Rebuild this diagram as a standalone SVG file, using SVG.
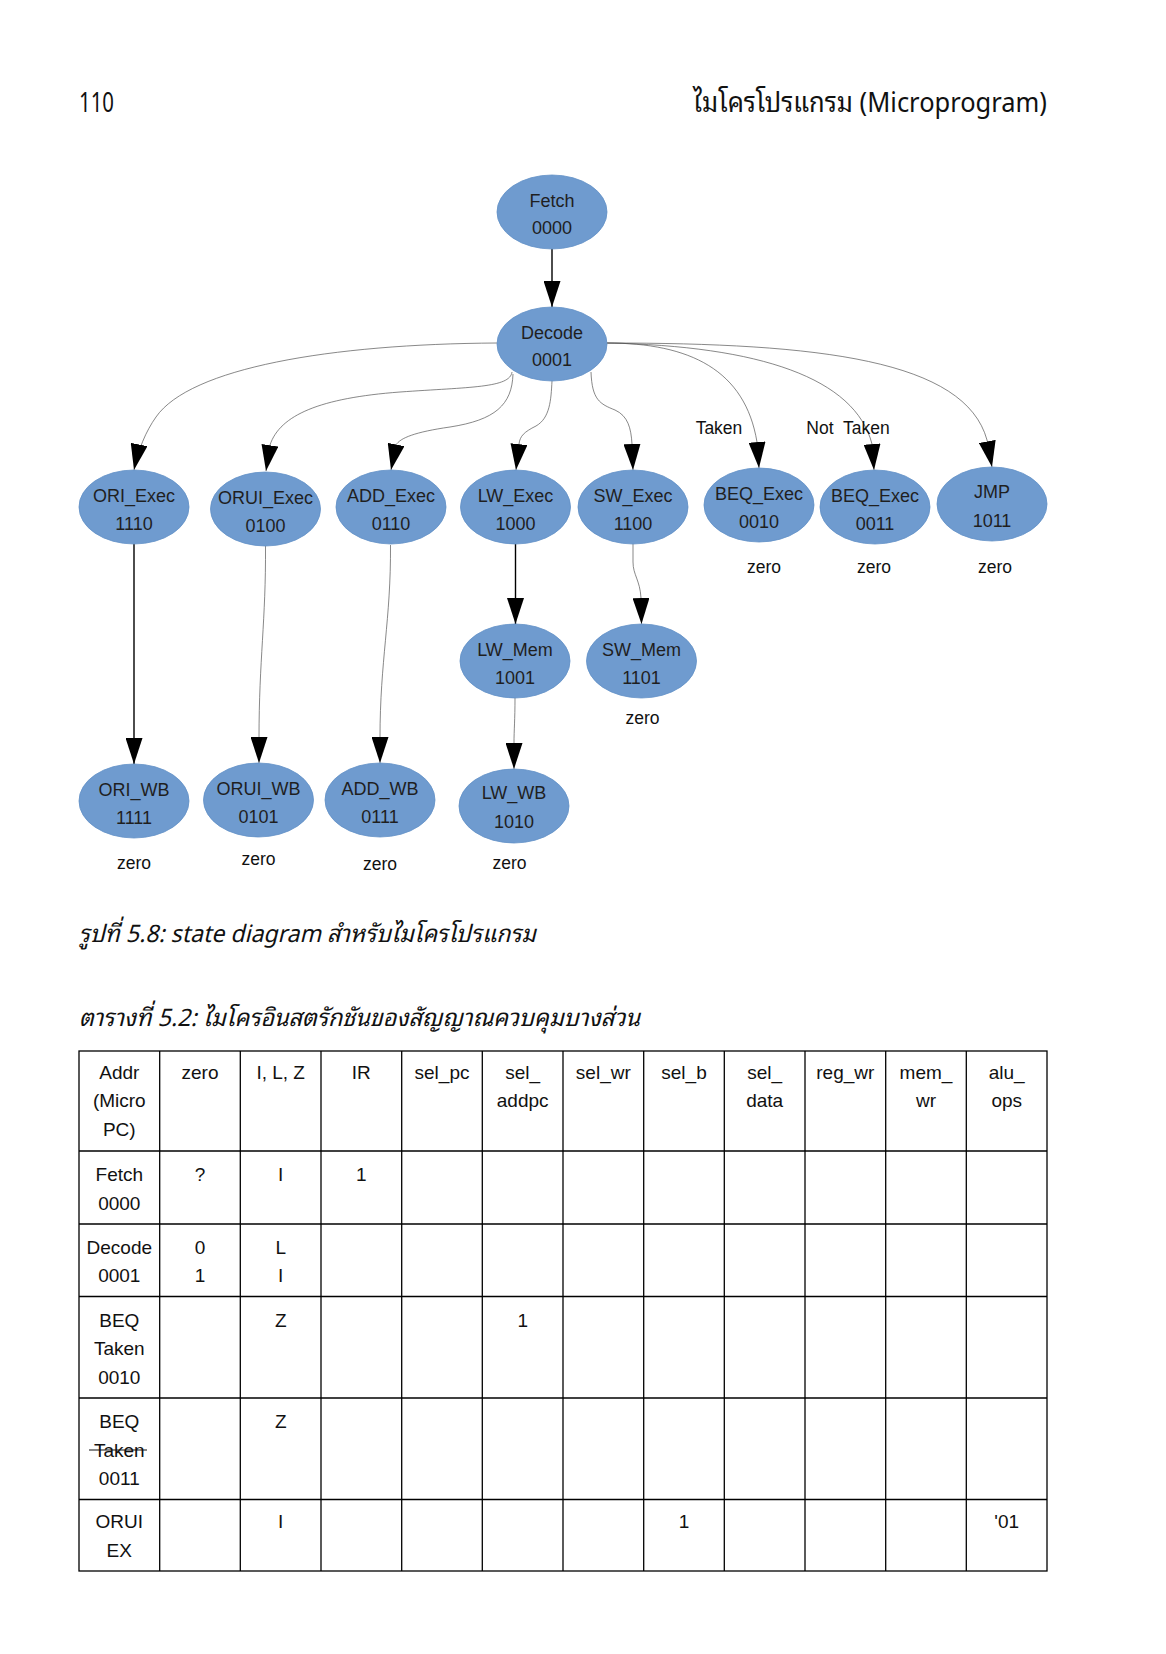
<svg xmlns="http://www.w3.org/2000/svg" width="1166" height="1654" viewBox="0 0 1166 1654">
  <style>
    .page { font-family: "Noto Sans Thai Looped", "Noto Sans Thai", "Noto Sans", "DejaVu Sans", sans-serif; fill: #111; }
    .node ellipse { fill: #6f9bcf; stroke: #6290c6; stroke-width: 0.8; }
    .node text { font-family: "Liberation Sans", Arial, sans-serif; font-size: 18px; fill: #1f1f1f; text-anchor: middle; }
    .lbl { font-family: "Liberation Sans", Arial, sans-serif; font-size: 17.5px; fill: #111; text-anchor: middle; }
    .bold { stroke: #000; stroke-width: 1.4; fill: none; }
    .thin { stroke: #555; stroke-width: 0.7; fill: none; }
    .cap { font-family: "Noto Sans Thai Looped", "Noto Sans Thai", "Noto Sans", "DejaVu Sans", sans-serif; font-style: italic; font-size: 24px; fill: #111; }
    .grid line, .grid rect { stroke: #000; stroke-width: 1.3; fill: none; }
    .cell { font-family: "Liberation Sans", Arial, sans-serif; font-size: 19px; fill: #111; text-anchor: middle; }
  </style>
  <defs>
    <marker id="ah" viewBox="0 0 26 17" refX="26" refY="8.5" markerWidth="26" markerHeight="17" markerUnits="userSpaceOnUse" orient="auto">
      <path d="M0,0 L26,8.5 L0,17 z" fill="#000"/>
    </marker>
  </defs>

  <rect x="0" y="0" width="1166" height="1654" fill="#fff"/>

  <!-- running header -->
  <text class="page" x="79" y="112" font-size="28" textLength="35" lengthAdjust="spacingAndGlyphs">110</text>
  <text class="page" x="693" y="112" font-size="28" textLength="354" lengthAdjust="spacingAndGlyphs">ไมโครโปรแกรม (Microprogram)</text>

  <!-- transitions -->
  <g id="connectors">
    <path class="bold" d="M552,249 L552,307" marker-end="url(#ah)"/>
    <path class="thin" d="M497,343 C330,344 190,368 156,417 C146,431 138,450 134,470" marker-end="url(#ah)"/>
    <path class="thin" d="M512,372 C510,388 470,387 400,392 C320,398 280,415 270,445 L266,471" marker-end="url(#ah)"/>
    <path class="thin" d="M513,374 C512,405 495,420 450,427 C415,432 400,438 396,445 L391,470" marker-end="url(#ah)"/>
    <path class="thin" d="M552,381 C551,400 550,418 536,426 C524,432 520,436 519,444 L516,470" marker-end="url(#ah)"/>
    <path class="thin" d="M591,372 C592,400 600,404 615,410 C628,416 631,428 632,444 L633,470" marker-end="url(#ah)"/>
    <path class="thin" d="M607,343 C690,343 745,370 757,442 L759,468" marker-end="url(#ah)"/>
    <path class="thin" d="M607,343 C760,346 855,378 872,444 L874,470" marker-end="url(#ah)"/>
    <path class="thin" d="M607,343 C820,343 965,360 987,440 L992,467" marker-end="url(#ah)"/>
    <path class="bold" d="M134,544 L134,764" marker-end="url(#ah)"/>
    <path class="thin" d="M265.5,546 C266,620 259,660 259,738 L259,763" marker-end="url(#ah)"/>
    <path class="thin" d="M390.5,545 C391,620 380,660 380,738 L380,763" marker-end="url(#ah)"/>
    <path class="bold" d="M515.5,544 L515.5,624" marker-end="url(#ah)"/>
    <path class="thin" d="M633,544 L633,562 C633,575 640,580 641,598 L641.5,624" marker-end="url(#ah)"/>
    <path class="thin" d="M515,698 C515,720 514,730 514,743 L514,769" marker-end="url(#ah)"/>
  </g>

  <!-- states -->
  <g id="fetch" class="node"><ellipse cx="552" cy="212" rx="55" ry="37"/><text x="552" y="207">Fetch</text><text x="552" y="234">0000</text></g>
  <g id="decode" class="node"><ellipse cx="552" cy="344" rx="55" ry="37"/><text x="552" y="339">Decode</text><text x="552" y="366">0001</text></g>
  <g id="ori-exec" class="node"><ellipse cx="134" cy="507" rx="55" ry="37"/><text x="134" y="502">ORI_Exec</text><text x="134" y="530">1110</text></g>
  <g id="orui-exec" class="node"><ellipse cx="265.5" cy="509" rx="55" ry="37"/><text x="265.5" y="504">ORUI_Exec</text><text x="265.5" y="532">0100</text></g>
  <g id="add-exec" class="node"><ellipse cx="391" cy="507" rx="55" ry="37"/><text x="391" y="502">ADD_Exec</text><text x="391" y="530">0110</text></g>
  <g id="lw-exec" class="node"><ellipse cx="515.5" cy="507" rx="55" ry="37"/><text x="515.5" y="502">LW_Exec</text><text x="515.5" y="530">1000</text></g>
  <g id="sw-exec" class="node"><ellipse cx="633" cy="507" rx="55" ry="37"/><text x="633" y="502">SW_Exec</text><text x="633" y="530">1100</text></g>
  <g id="beq-taken" class="node"><ellipse cx="759" cy="505" rx="55" ry="37"/><text x="759" y="500">BEQ_Exec</text><text x="759" y="528">0010</text></g>
  <g id="beq-not-taken" class="node"><ellipse cx="875" cy="507" rx="55" ry="37"/><text x="875" y="502">BEQ_Exec</text><text x="875" y="530">0011</text></g>
  <g id="jmp" class="node"><ellipse cx="992" cy="504" rx="55" ry="37"/><text x="992" y="498">JMP</text><text x="992" y="527">1011</text></g>
  <g id="lw-mem" class="node"><ellipse cx="515" cy="661" rx="55" ry="37"/><text x="515" y="656">LW_Mem</text><text x="515" y="684">1001</text></g>
  <g id="sw-mem" class="node"><ellipse cx="641.5" cy="661" rx="55" ry="37"/><text x="641.5" y="656">SW_Mem</text><text x="641.5" y="684">1101</text></g>
  <g id="ori-wb" class="node"><ellipse cx="134" cy="801" rx="55" ry="37"/><text x="134" y="796">ORI_WB</text><text x="134" y="824">1111</text></g>
  <g id="orui-wb" class="node"><ellipse cx="258.5" cy="800" rx="55" ry="37"/><text x="258.5" y="795">ORUI_WB</text><text x="258.5" y="823">0101</text></g>
  <g id="add-wb" class="node"><ellipse cx="380" cy="800" rx="55" ry="37"/><text x="380" y="795">ADD_WB</text><text x="380" y="823">0111</text></g>
  <g id="lw-wb" class="node"><ellipse cx="514" cy="806" rx="55" ry="37"/><text x="514" y="799">LW_WB</text><text x="514" y="828">1010</text></g>

  <!-- edge and state annotations -->
  <g id="annotations">
    <text class="lbl" x="719" y="434">Taken</text>
    <text class="lbl" x="848" y="434" xml:space="preserve">Not  Taken</text>
    <text class="lbl" x="764" y="573">zero</text>
    <text class="lbl" x="874" y="573">zero</text>
    <text class="lbl" x="995" y="573">zero</text>
    <text class="lbl" x="642.5" y="724">zero</text>
    <text class="lbl" x="134" y="868.5">zero</text>
    <text class="lbl" x="258.5" y="864.5">zero</text>
    <text class="lbl" x="380" y="869.5">zero</text>
    <text class="lbl" x="509.5" y="868.5">zero</text>
  </g>

  <!-- captions -->
  <text class="cap" x="79" y="942" textLength="457" lengthAdjust="spacingAndGlyphs">รูปที่ 5.8: state diagram สำหรับไมโครโปรแกรม</text>
  <text class="cap" x="79" y="1025.5" textLength="561" lengthAdjust="spacingAndGlyphs">ตารางที่ 5.2: ไมโครอินสตรักชันของสัญญาณควบคุมบางส่วน</text>

  <!-- microinstruction table grid -->
  <g class="grid">
    <rect x="79" y="1051" width="968" height="520"/>
    <line x1="79" y1="1151" x2="1047" y2="1151"/>
    <line x1="79" y1="1224" x2="1047" y2="1224"/>
    <line x1="79" y1="1296.5" x2="1047" y2="1296.5"/>
    <line x1="79" y1="1398" x2="1047" y2="1398"/>
    <line x1="79" y1="1499.5" x2="1047" y2="1499.5"/>
    <line x1="159.7" y1="1051" x2="159.7" y2="1571"/>
    <line x1="240.3" y1="1051" x2="240.3" y2="1571"/>
    <line x1="321" y1="1051" x2="321" y2="1571"/>
    <line x1="401.7" y1="1051" x2="401.7" y2="1571"/>
    <line x1="482.3" y1="1051" x2="482.3" y2="1571"/>
    <line x1="563" y1="1051" x2="563" y2="1571"/>
    <line x1="643.7" y1="1051" x2="643.7" y2="1571"/>
    <line x1="724.3" y1="1051" x2="724.3" y2="1571"/>
    <line x1="805" y1="1051" x2="805" y2="1571"/>
    <line x1="885.7" y1="1051" x2="885.7" y2="1571"/>
    <line x1="966.3" y1="1051" x2="966.3" y2="1571"/>
  </g>

  <!-- table header -->
  <g class="cell">
    <text x="119.3" y="1078.5">Addr</text>
    <text x="119.3" y="1107">(Micro</text>
    <text x="119.3" y="1135.5">PC)</text>
    <text x="200" y="1078.5">zero</text>
    <text x="280.7" y="1078.5">I, L, Z</text>
    <text x="361.3" y="1078.5">IR</text>
    <text x="442" y="1078.5">sel_pc</text>
    <text x="522.7" y="1078.5">sel_</text>
    <text x="522.7" y="1107">addpc</text>
    <text x="603.3" y="1078.5">sel_wr</text>
    <text x="684" y="1078.5">sel_b</text>
    <text x="764.7" y="1078.5">sel_</text>
    <text x="764.7" y="1107">data</text>
    <text x="845.3" y="1078.5">reg_wr</text>
    <text x="926" y="1078.5">mem_</text>
    <text x="926" y="1107">wr</text>
    <text x="1006.7" y="1078.5">alu_</text>
    <text x="1006.7" y="1107">ops</text>
  </g>

  <!-- table body -->
  <g class="cell">
    <text x="119.3" y="1181">Fetch</text>
    <text x="119.3" y="1209.5">0000</text>
    <text x="200" y="1181">?</text>
    <text x="280.7" y="1181">I</text>
    <text x="361.3" y="1181">1</text>

    <text x="119.3" y="1253.5">Decode</text>
    <text x="119.3" y="1282">0001</text>
    <text x="200" y="1253.5">0</text>
    <text x="200" y="1282">1</text>
    <text x="280.7" y="1253.5">L</text>
    <text x="280.7" y="1282">I</text>

    <text x="119.3" y="1326.5">BEQ</text>
    <text x="119.3" y="1355">Taken</text>
    <text x="119.3" y="1383.5">0010</text>
    <text x="280.7" y="1326.5">Z</text>
    <text x="522.7" y="1326.5">1</text>

    <text x="119.3" y="1427.5">BEQ</text>
    <text x="119.3" y="1456.5">Taken</text>
    <text x="119.3" y="1484.5">0011</text>
    <text x="280.7" y="1427.5">Z</text>

    <text x="119.3" y="1528">ORUI</text>
    <text x="119.3" y="1556.5">EX</text>
    <text x="280.7" y="1528">I</text>
    <text x="684" y="1528">1</text>
    <text x="1006.7" y="1528">'01</text>
  </g>
  <!-- strike over "Taken" in the not-taken row -->
  <line x1="89" y1="1450" x2="147" y2="1450" stroke="#111" stroke-width="1.2"/>
</svg>
